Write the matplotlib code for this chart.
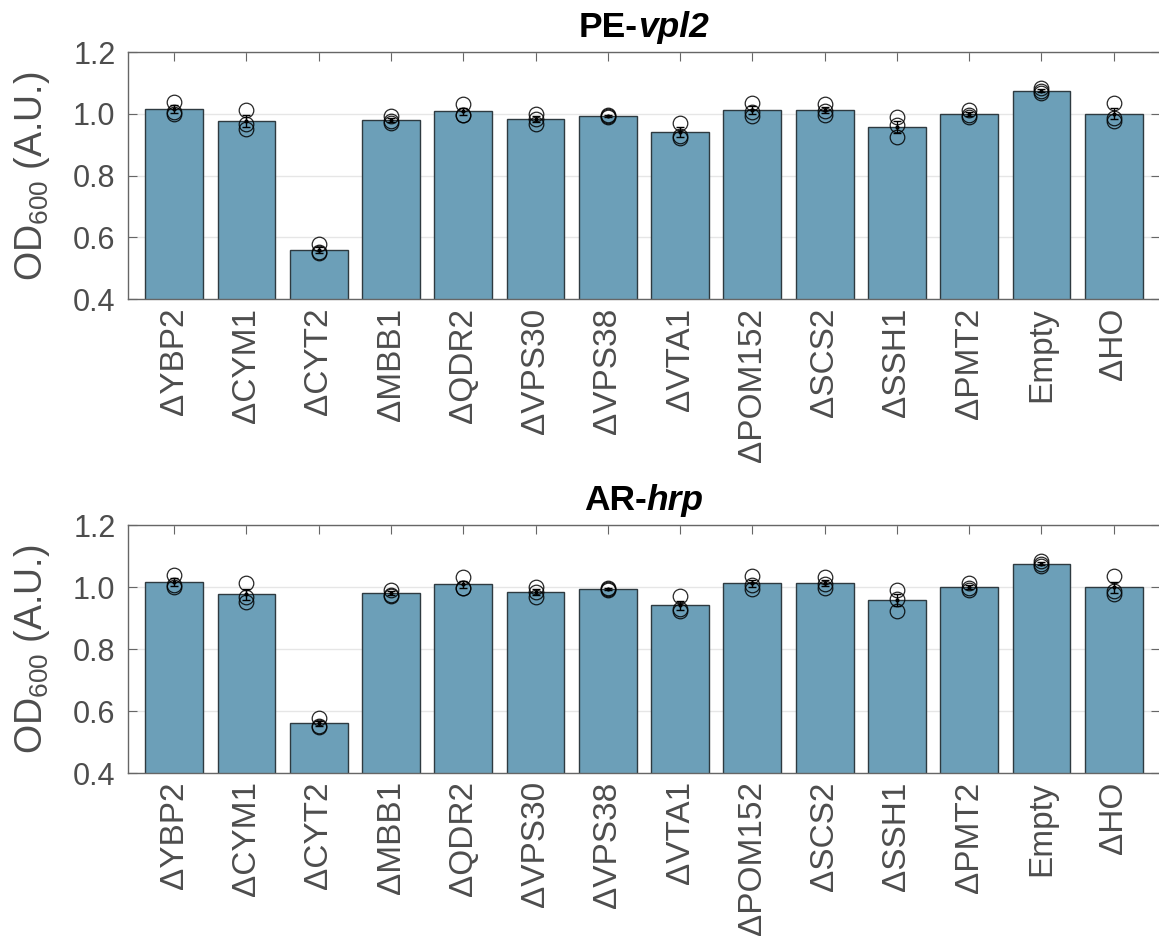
import numpy as np
import matplotlib
matplotlib.use('Agg')
import matplotlib.pyplot as plt

plt.rcParams['font.family'] = ['Liberation Sans', 'DejaVu Sans']
plt.rcParams['mathtext.fontset'] = 'custom'
plt.rcParams['mathtext.rm'] = 'Liberation Sans'
plt.rcParams['mathtext.default'] = 'regular'

# strains and three replicate OD600 readings per strain
strains = ['ΔYBP2', 'ΔCYM1', 'ΔCYT2', 'ΔMBB1', 'ΔQDR2', 'ΔVPS30', 'ΔVPS38',
           'ΔVTA1', 'ΔPOM152', 'ΔSCS2', 'ΔSSH1', 'ΔPMT2', 'Empty', 'ΔHO']
rep1 = [1.040, 1.012, 0.578, 0.992, 1.032, 1.000, 0.998, 0.972, 1.035, 1.033, 0.990, 1.012, 1.085, 1.035]
rep2 = [1.008, 0.968, 0.553, 0.976, 0.998, 0.985, 0.994, 0.928, 1.008, 1.010, 0.963, 0.998, 1.073, 0.988]
rep3 = [1.000, 0.951, 0.549, 0.972, 0.997, 0.967, 0.990, 0.923, 0.993, 0.996, 0.924, 0.990, 1.067, 0.977]

panels = [('PE-', 'vpl2'), ('AR-', 'hrp')]
rects = [[0.1104, 0.682, 0.8904, 0.2625], [0.1104, 0.1785, 0.8904, 0.2635]]

reps = np.array([rep1, rep2, rep3])
means = reps.mean(axis=0)
sem = reps.std(axis=0, ddof=1) / np.sqrt(3)
x = np.arange(1, len(strains) + 1)

bar_color = '#6c9fb8'
txt_color = '#4d4d4d'
axis_color = '#666666'

fig = plt.figure(figsize=(11.59, 9.41), dpi=100)
axes = []
for rect in rects:
    ax = fig.add_axes(rect)
    ax.bar(x, means, width=0.8, color=bar_color, edgecolor='#2e3a40', linewidth=1, zorder=2)
    for r in reps:
        ax.plot(x, r, 'o', mfc='none', mec='k', ms=10.5, mew=0.9, alpha=0.85, zorder=3)
    ax.errorbar(x, means, yerr=sem, fmt='.', color='k', ms=4, capsize=3, elinewidth=1, zorder=4)

    ax.set_xlim(0.36, 14.64)
    ax.set_ylim(0.4, 1.2)
    ax.set_yticks([0.4, 0.6, 0.8, 1.0, 1.2])
    ax.yaxis.set_major_formatter('{x:.1f}')
    ax.set_xticks(x)
    ax.set_xticklabels(strains, rotation=90)
    ax.grid(axis='y', color='#e6e6e6', lw=1)
    ax.set_axisbelow(True)
    ax.tick_params(direction='in', top=True, right=True, length=6.5, width=0.8,
                   color=axis_color, labelsize=22, labelcolor=txt_color)
    ax.tick_params(axis='x', pad=6, labelsize=24)
    ax.tick_params(axis='y', pad=9)
    for s in ax.spines.values():
        s.set_color(axis_color)
        s.set_linewidth(1)
    ax.set_ylabel('OD$_{600}$ (A.U.)', fontsize=27, color=txt_color)
    ax.yaxis.set_label_coords(-0.074, 0.5)
    axes.append(ax)

fig.canvas.draw()
renderer = fig.canvas.get_renderer()
for ax, (prefix, gene) in zip(axes, panels):
    t1 = ax.text(0.5, 1.06, prefix, transform=ax.transAxes, ha='left', va='baseline',
                 fontsize=25.5, fontweight='bold')
    t2 = ax.text(0.5, 1.06, gene, transform=ax.transAxes, ha='left', va='baseline',
                 fontsize=25.5, fontweight='bold', fontstyle='italic')
    axw = ax.get_window_extent(renderer).width
    w1 = t1.get_window_extent(renderer).width
    w2 = t2.get_window_extent(renderer).width
    start = 0.5 - (w1 + w2) / 2 / axw
    t1.set_x(start)
    t2.set_x(start + w1 / axw)

fig.savefig('out.png', dpi=100)
